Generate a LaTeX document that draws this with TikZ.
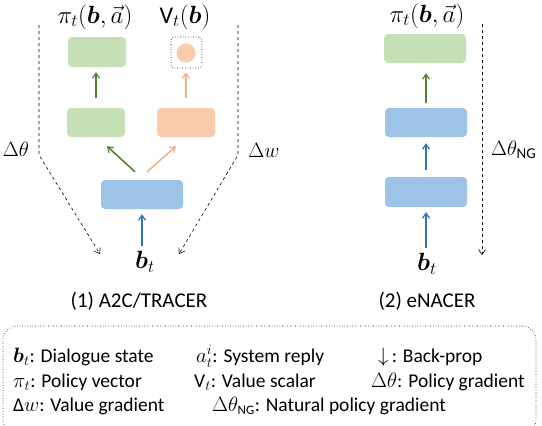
\documentclass[tikz,border=0pt]{standalone}
\usepackage{amsmath}
\usepackage{fontspec}
\setmainfont{Carlito}
\usetikzlibrary{arrows.meta,calc}
\definecolor{gfill}{HTML}{C5E0B4}
\definecolor{ofill}{HTML}{F8CBAD}
\definecolor{bfill}{HTML}{9DC3E6}
\definecolor{garr}{HTML}{548235}
\definecolor{oarr}{HTML}{F4B183}
\definecolor{barr}{HTML}{2E75B6}
\tikzset{
  layer/.style={rounded corners=4pt, minimum height=29pt, inner sep=0pt, draw=none},
  flow/.style={line width=1.6pt, -{Straight Barb[length=5pt,width=7pt,line width=1.2pt]}},
  bprop/.style={dashed, line width=0.6pt, -{Straight Barb[length=5pt,width=7pt,line width=0.6pt]}},
  lbl/.style={inner sep=0pt, font=\fontsize{22}{24}\selectfont},
  toplbl/.style={inner sep=0pt, font=\fontsize{24}{26}\selectfont},
  btlbl/.style={inner sep=0pt, font=\fontsize{25}{28}\selectfont},
  captxt/.style={inner sep=0pt, font=\fontsize{21}{24}\selectfont},
  leg/.style={inner sep=0pt, anchor=base west, text height=13pt, text depth=3pt, font=\fontsize{19.5}{24}\selectfont},
}
\begin{document}
\begin{tikzpicture}[x=1pt,y=-1pt]
\useasboundingbox (0,0) rectangle (542,426);
% ---------- (1) A2C/TRACER ----------
\node[layer, fill=gfill, minimum width=58pt, minimum height=30pt] (g2) at (97,52) {};
\node[layer, fill=gfill, minimum width=58pt] (g1) at (96,122.5) {};
\node[layer, fill=ofill, minimum width=58pt] (o1) at (186,122.5) {};
\node[rounded corners=3pt, draw, dotted, line width=0.6pt, minimum width=31pt, minimum height=31pt, inner sep=0pt] (vbox) at (186.5,52.5) {};
\node[circle, fill=ofill, minimum size=19pt, inner sep=0pt] (vc) at (186,53) {};
\node[layer, fill=bfill, minimum width=82pt] (bl) at (142,194.5) {};
\node[btlbl] (btl) at (145,262) {$\boldsymbol{b}_t$};
\node[toplbl] (pil) at (95,17) {$\pi_t(\boldsymbol{b},\vec{a})$};
\node[toplbl] (vl) at (185,17) {$\mbox{V}_t(\boldsymbol{b})$};
\node[captxt] (c1) at (139,301) {(1) A2C/TRACER};

\draw[flow, barr] ($(btl.north)+(-3,-5)$) coordinate (bt0) -- ($(bl.south)+(0,5)$);
\draw[flow, garr] ($(bl.north)+(-7,-8)$) coordinate (d1) -- ($(g1.south)+(11,9)$);
\draw[flow, oarr] ($(bl.north)+(5,-8)$) coordinate (d2) -- ($(o1.south)+(-10,9)$);
\draw[flow, garr] ($(g1.north)+(0,-10)$) coordinate (u1) -- ($(g2.south)+(-1,5)$);
\draw[flow, oarr] ($(o1.north)+(0,-10)$) coordinate (u2) -- ($(vbox.south)+(-0.5,4)$);

\coordinate (lt) at (39,25);
\coordinate (lm) at (39,155);
\coordinate (lb) at (100,254);
\coordinate (rt) at (238,25);
\coordinate (rm) at (238,155);
\coordinate (rb) at (179,254);
\draw[bprop] (lt) -- (lm) -- (lb);
\draw[bprop] (rt) -- (rm) -- (rb);
\node[lbl] (dth) at (16,149) {$\Delta\theta$};
\node[lbl] (dw) at (264,150) {$\Delta w$};

% ---------- (2) eNACER ----------
\node[layer, fill=gfill, minimum width=82pt] (rg) at (425,48.5) {};
\node[layer, fill=bfill, minimum width=82pt] (rb2) at (426,122.5) {};
\node[layer, fill=bfill, minimum width=82pt, minimum height=30pt] (rb1) at (426,192) {};
\node[btlbl] (btr) at (427,264) {$\boldsymbol{b}_t$};
\node[toplbl] (pir) at (427,16) {$\pi_t(\boldsymbol{b},\vec{a})$};
\node[captxt] (c2) at (427,301) {(2) eNACER};
\draw[flow, barr] ($(btr.north)+(-1,-5)$) -- ($(rb1.south)+(0,5)$);
\draw[flow, barr] ($(rb1.north)+(0,-7)$) -- ($(rb2.south)+(0,6)$);
\draw[flow, garr] ($(rb2.north)+(0,-5)$) -- ($(rg.south)+(1,10)$);
\coordinate (nt) at (482,24);
\coordinate (nb) at (482,255);
\draw[bprop] (nt) -- (nb);
\node[lbl, anchor=west] (dng) at (491,150) {$\Delta\theta_{\mbox{\fontsize{15}{16}\selectfont NG}}$};

% ---------- legend ----------
\node[draw, dotted, line width=0.6pt, rounded corners=14pt, minimum width=533pt, minimum height=108pt, inner sep=0pt] (legbox) at (269.5,380) {};
\node[leg] (l11) at (13,362) {$\boldsymbol{b}_t$: Dialogue state};
\node[leg] (l12) at (196,362) {$a_t^i$: System reply};
\node[leg] (l13) at (378,362) {$\downarrow$\,: Back-prop};
\node[leg] (l21) at (13,387) {$\pi_t$: Policy vector};
\node[leg] (l22) at (194,387) {$\mbox{V}_t$: Value scalar};
\node[leg] (l23) at (371,387) {$\Delta\theta$: Policy gradient};
\node[leg] (l31) at (13,411) {Δ$w$: Value gradient};
\node[leg] (l32) at (212,411) {$\Delta\theta_{\mbox{\fontsize{13}{14}\selectfont NG}}$: Natural policy gradient};
\end{tikzpicture}
\end{document}
